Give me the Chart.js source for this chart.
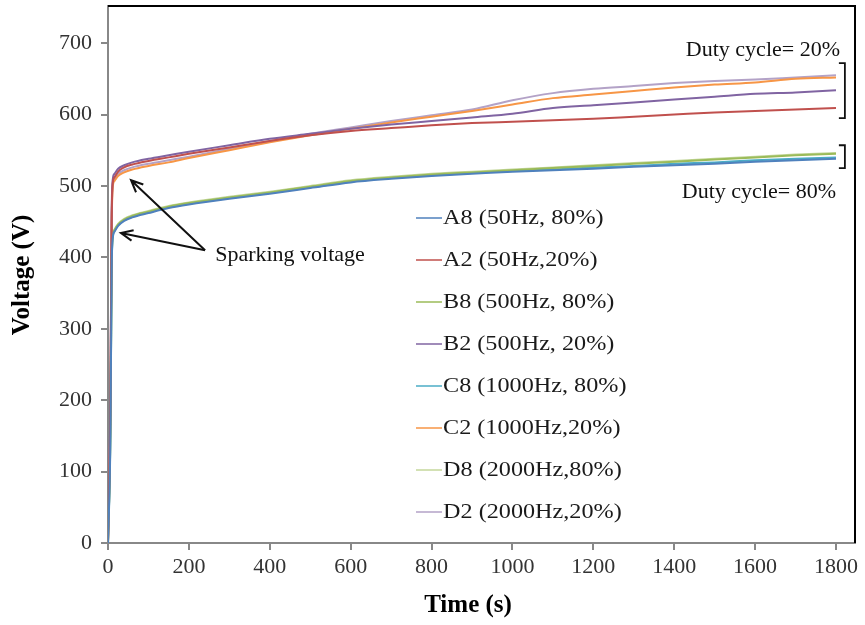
<!DOCTYPE html>
<html>
<head>
<meta charset="utf-8">
<script src="https://cdn.jsdelivr.net/npm/chart.js@4.4.0/dist/chart.umd.min.js"></script>
<style>
  html, body { margin: 0; padding: 0; background: #fff; }
  canvas { display: block; }
</style>
</head>
<body>
<canvas id="chart" width="865" height="625"></canvas>
<script>
// time in seconds, voltage in V
const times = [0, 6, 9, 12, 16, 25, 40, 60, 100, 150, 200, 300, 400, 500, 600, 700, 800, 900, 1000, 1100, 1200, 1300, 1400, 1500, 1600, 1700, 1800];

const a8 = [0, 150, 380, 428, 436, 444, 451, 456, 462, 469, 474, 482, 489, 497, 505, 510, 514, 517, 520, 522, 524, 527, 529, 531, 534, 536, 538];
const a2 = [0, 200, 450, 505, 512, 520, 526, 530, 535, 540, 545, 554, 563, 571, 577, 581, 585, 588, 590, 592, 594, 597, 600, 603, 605, 607, 609];
const b8 = [0, 160, 385, 430, 438, 446, 453, 458, 464, 471, 476, 484, 491, 499, 507, 512, 516, 519, 522, 525, 528, 531, 534, 537, 540, 543, 545];
const b2 = [0, 210, 460, 510, 517, 524, 529, 533, 538, 543, 548, 557, 566, 573, 580, 586, 591, 596, 601, 609, 613, 617, 621, 625, 629, 631, 634];
const c8 = [0, 155, 382, 429, 437, 445, 452, 457, 463, 470, 475, 483, 490, 498, 506, 511, 515, 518, 521, 523, 526, 528, 531, 533, 536, 538, 540];
const c2 = [0, 190, 440, 500, 507, 514, 519, 523, 528, 533, 539, 550, 561, 571, 580, 589, 597, 605, 614, 623, 628, 633, 638, 642, 645, 650, 652];
const d8 = [0, 160, 386, 431, 439, 447, 454, 459, 465, 472, 477, 485, 492, 500, 508, 513, 517, 520, 523, 526, 529, 532, 535, 538, 541, 544, 546];
const d2 = [0, 195, 445, 503, 510, 517, 522, 526, 531, 536, 541, 552, 563, 573, 582, 591, 599, 607, 620, 630, 636, 640, 644, 647, 649, 652, 655];

const labels = ["A8 (50Hz, 80%)", "A2 (50Hz,20%)", "B8 (500Hz, 80%)", "B2 (500Hz, 20%)",
                "C8 (1000Hz, 80%)", "C2 (1000Hz,20%)", "D8 (2000Hz,80%)", "D2 (2000Hz,20%)"];
const series = [a8, a2, b8, b2, c8, c2, d8, d2];
const colors = ["#4F81BD", "#C0504D", "#9BBB59", "#8064A2", "#4BACC6", "#F79646", "#C4D79B", "#B3A2C7"];

const serif = '"Liberation Serif", "Times New Roman", serif';

function arrow(ctx, x1, y1, x2, y2) {
  const ang = Math.atan2(y2 - y1, x2 - x1);
  const len = 13, spread = 0.42;
  ctx.beginPath();
  ctx.moveTo(x1, y1);
  ctx.lineTo(x2, y2);
  ctx.moveTo(x2 - len * Math.cos(ang - spread), y2 - len * Math.sin(ang - spread));
  ctx.lineTo(x2, y2);
  ctx.lineTo(x2 - len * Math.cos(ang + spread), y2 - len * Math.sin(ang + spread));
  ctx.stroke();
}

function bracket(ctx, x, yTop, yBot) {
  ctx.beginPath();
  ctx.moveTo(x - 6, yTop);
  ctx.lineTo(x, yTop);
  ctx.lineTo(x, yBot);
  ctx.lineTo(x - 6, yBot);
  ctx.stroke();
}

const extras = {
  id: "extras",
  afterDraw(chart) {
    const ctx = chart.ctx;
    const xs = chart.scales.x, ys = chart.scales.y;
    const area = chart.chartArea;
    const px = v => xs.getPixelForValue(v);
    const py = v => ys.getPixelForValue(v);
    ctx.save();

    // frame on top and right
    ctx.strokeStyle = "#000";
    ctx.lineWidth = 2;
    ctx.beginPath();
    ctx.moveTo(area.left, area.top);
    ctx.lineTo(area.right, area.top);
    ctx.lineTo(area.right, area.bottom);
    ctx.stroke();

    // axis titles
    ctx.fillStyle = "#000";
    ctx.font = "bold 25px " + serif;
    ctx.textAlign = "center";
    ctx.textBaseline = "middle";
    ctx.fillText("Time (s)", 468, 606);
    ctx.save();
    ctx.translate(23, 275);
    ctx.rotate(-Math.PI / 2);
    ctx.fillText("Voltage (V)", 0, 0);
    ctx.restore();

    // annotations
    ctx.font = "22px " + serif;
    ctx.fillStyle = "#111";
    ctx.textAlign = "right";
    ctx.fillText("Duty cycle= 20%", px(1800) + 4, py(690));
    ctx.fillText("Duty cycle= 80%", px(1800), py(491));
    ctx.textAlign = "left";
    ctx.fillText("Sparking voltage", px(265), py(403));

    ctx.strokeStyle = "#111";
    ctx.lineWidth = 2;
    arrow(ctx, px(240), py(410), px(57), py(508));
    arrow(ctx, px(240), py(410), px(32), py(434));
    ctx.lineWidth = 1.8;
    bracket(ctx, px(1822), py(672), py(595));
    bracket(ctx, px(1822), py(557), py(525));

    // legend inside the plot
    ctx.font = "22px " + serif;
    ctx.textAlign = "left";
    chart.data.datasets.forEach((ds, i) => {
      const y = 218 + 42 * i;
      ctx.strokeStyle = ds.borderColor;
      ctx.lineWidth = 1.5;
      ctx.beginPath();
      ctx.moveTo(416, y);
      ctx.lineTo(442, y);
      ctx.stroke();
      ctx.fillStyle = "#1a1a1a";
      ctx.save();
      ctx.translate(443, y);
      ctx.scale(1.1, 1);
      ctx.fillText(ds.label, 0, 0);
      ctx.restore();
    });
    ctx.restore();
  }
};

new Chart(document.getElementById("chart"), {
  type: "line",
  data: {
    datasets: series.map((s, i) => ({
      label: labels[i],
      data: times.map((t, j) => ({ x: t, y: s[j] })),
      borderColor: colors[i],
      borderWidth: 2,
      pointRadius: 0,
      cubicInterpolationMode: "monotone",
      fill: false
    }))
  },
  options: {
    responsive: false,
    animation: false,
    devicePixelRatio: 1,
    layout: { padding: { top: 6, right: 10, left: 0, bottom: 0 } },
    plugins: { legend: { display: false }, tooltip: { enabled: false } },
    scales: {
      x: {
        type: "linear",
        min: 0,
        max: 1847,
        afterFit: s => { s.height = 82; s.paddingLeft = 0; s.paddingRight = 0; },
        grid: { drawOnChartArea: false, tickLength: 7, color: "#888", lineWidth: 2 },
        border: { color: "#888", width: 2 },
        ticks: {
          stepSize: 200,
          includeBounds: false,
          maxRotation: 0,
          autoSkip: false,
          padding: 4,
          color: "#333",
          font: { family: serif, size: 22 },
          callback: v => String(v)
        }
      },
      y: {
        min: 0,
        max: 752,
        afterFit: s => { s.width = 108; s.paddingTop = 0; s.paddingBottom = 0; },
        grid: { drawOnChartArea: false, tickLength: 7, color: "#888", lineWidth: 2 },
        border: { color: "#888", width: 2 },
        ticks: {
          stepSize: 100,
          includeBounds: false,
          padding: 9,
          color: "#333",
          font: { family: serif, size: 22 },
          callback: v => String(v)
        }
      }
    }
  },
  plugins: [extras]
});
</script>
</body>
</html>
